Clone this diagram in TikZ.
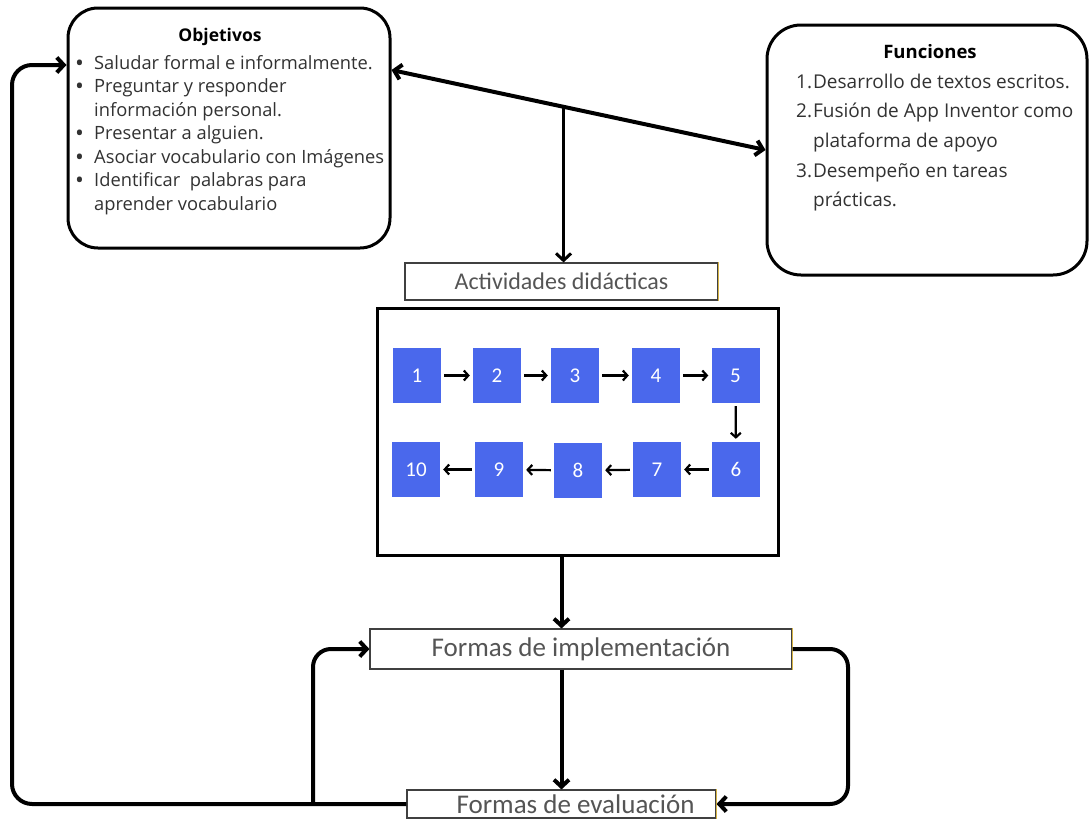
\documentclass[tikz,border=0pt]{standalone}
\usepackage{fontspec}
\setmainfont{Open Sans}
\newfontfamily\narrowf{Carlito}
\usetikzlibrary{arrows.meta,calc}
\definecolor{sqblue}{RGB}{74,104,236}
\definecolor{txtgray}{RGB}{50,50,50}
\definecolor{labgray}{RGB}{85,85,85}
\definecolor{goldedge}{RGB}{214,180,70}
\newcommand{\bul}{\textbf{•}}
\tikzset{
  rbox/.style={draw, line width=3pt, rounded corners=30pt, inner sep=0pt},
  lbox/.style={draw=black!75, line width=1.1pt, inner sep=0pt, text=labgray},
  sq/.style={fill=sqblue, minimum width=48pt, minimum height=55pt, inner sep=0pt, text=white, font=\narrowf\fontsize{21}{21}\selectfont},
  conn/.style={line width=4pt, -{Straight Barb[length=7pt,width=15pt]}},
  smallarr/.style={line width=2.2pt, -{Straight Barb[length=4.5pt,width=10pt]}, shorten <=3pt, shorten >=3pt},
  goldline/.style={draw=goldedge, line width=1.1pt}
}
\begin{document}
\begin{tikzpicture}[x=1pt,y=-1pt]
\useasboundingbox[fill=white] (0,0) rectangle (1090,819);

% Objetivos
\node[rbox, minimum width=322pt, minimum height=240pt] (obj) at (229,128) {};
\node[font=\bfseries\fontsize{17.5}{17.5}\selectfont, anchor=base] (objtitle) at (220,41) {Objetivos};
\node[anchor=base west, inner sep=0pt, text=txtgray, font=\fontsize{18.3}{23.5}\selectfont] (objlist) at (76,69)
{\begin{tabular}[t]{@{}p{18pt}@{}l@{}}
\bul&Saludar formal e informalmente.\\
\bul&Preguntar y responder\\
&información personal.\\
\bul&Presentar a alguien.\\
\bul&Asociar vocabulario con Imágenes\\
\bul&Identificar\ \ palabras para\\
&aprender vocabulario
\end{tabular}};

% Funciones
\node[rbox, rounded corners=34pt, minimum width=320pt, minimum height=250pt] (fun) at (927,150) {};
\node[font=\bfseries\fontsize{18.5}{18.5}\selectfont, anchor=base] (funtitle) at (930,58) {Funciones};
\node[anchor=base west, inner sep=0pt, text=txtgray, font=\fontsize{19}{29.7}\selectfont] (funlist) at (796,88)
{\begin{tabular}[t]{@{}l@{\hspace{1pt}}l@{}}
1.&Desarrollo de textos escritos.\\
2.&Fusión de App Inventor como\\
&plataforma de apoyo\\
3.&Desempeño en tareas\\
&prácticas.
\end{tabular}};

% Actividades
\node[lbox, minimum width=313pt, minimum height=37pt, font=\narrowf\fontsize{24}{24}\selectfont] (act) at (561.5,281.5) {Actividades didácticas};
\draw[goldline] (act.north east) -- (act.south east);

% double arrow
\coordinate (d1) at (obj.east |- 0,70);
\coordinate (d2) at (fun.west |- 0,150);
\draw[line width=4pt, {Straight Barb[length=7pt,width=15pt]}-{Straight Barb[length=7pt,width=15pt]}] (d1) -- (d2);
\coordinate (j) at ($(d1)!0.46!(d2)$);
\draw[conn, line width=3pt] (j) -- (j |- act.north);

% big box
\node[draw, line width=3pt, minimum width=401pt, minimum height=247pt, inner sep=0pt] (big) at (577.5,431.5) {};

\node[sq] (s1) at (417,375.5) {1};
\node[sq] (s2) at (497,375.5) {2};
\node[sq] (s3) at (575,375.5) {3};
\node[sq] (s4) at (656,375.5) {4};
\node[sq] (s5) at (735.5,375.5) {5};
\node[sq] (s6) at (736,469.5) {6};
\node[sq] (s7) at (657,469.5) {7};
\node[sq] (s8) at (578,470.5) {8};
\node[sq] (s9) at (499,469.5) {9};
\node[sq] (s10) at (416,469.5) {10};

\draw[smallarr] (s1) -- (s2);
\draw[smallarr] (s2) -- (s3);
\draw[smallarr] (s3) -- (s4);
\draw[smallarr] (s4) -- (s5);
\draw[smallarr] (s5) -- (s6);
\draw[smallarr] (s6) -- (s7);
\draw[smallarr] (s7) -- (s8);
\draw[smallarr] (s8) -- (s9);
\draw[smallarr] (s9) -- (s10);

% implementation / evaluation
\node[lbox, minimum width=422pt, minimum height=40pt, font=\narrowf\fontsize{27}{27}\selectfont] (impl) at (581,649) {Formas de implementación};
\draw[goldline] (impl.north east) -- (impl.south east);
\node[lbox, minimum width=309pt, minimum height=28pt, font=\narrowf\fontsize{27}{27}\selectfont] (eval) at (561.5,804) {\hspace*{28pt}Formas de evaluación};
\draw[goldline] (eval.north east) -- (eval.south east);

\draw[conn] (big.south -| act.south) -- (impl.north -| act.south);
\draw[conn] (impl.south -| act.south) -- (eval.north -| act.south);

% loops
\coordinate (lx) at (12,65);
\draw[conn, rounded corners=20pt] (eval.west) -| (lx) -- (obj.west |- lx);
\coordinate (b1) at (313,0);
\draw[conn, rounded corners=18pt] (b1 |- eval.west) |- (impl.west);
\coordinate (rx) at (848,0);
\draw[conn, rounded corners=18pt] (impl.east) -| (rx |- eval.east) -- (eval.east);
\end{tikzpicture}
\end{document}
